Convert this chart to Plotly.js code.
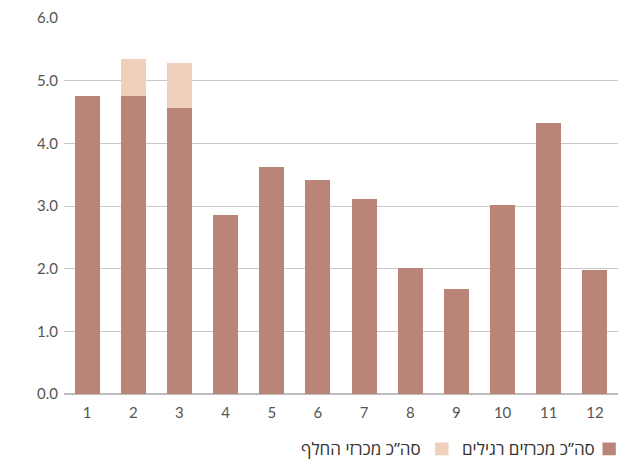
<!DOCTYPE html>
<html>
<head>
<meta charset="utf-8">
<script src="https://cdn.plot.ly/plotly-3.0.1.min.js"></script>
<style>html,body{margin:0;padding:0;background:#fff;}#chart{width:621px;height:460px;}</style>
</head>
<body>
<div id="chart"></div>
<script>
const categories = ["1","2","3","4","5","6","7","8","9","10","11","12"];
const regularValues = [4.76, 4.76, 4.56, 2.86, 3.62, 3.41, 3.11, 2.01, 1.68, 3.02, 4.32, 1.98];
const replacementValues = [0, 0.59, 0.72, 0, 0, 0, 0, 0, 0, 0, 0, 0];
const seriesNames = ["סה\u201dכ מכרזים רגילים", "סה\u201dכ מכרזי החלף"];
const yTickValues = [0, 1, 2, 3, 4, 5, 6];
const yTickLabels = ["0.0", "1.0", "2.0", "3.0", "4.0", "5.0", "6.0"];

const colors = ["#b98578", "#f0cfbd"];
const fontFamily = "Lato, 'Open Sans', 'DejaVu Sans', sans-serif";
const legendFont = "'Open Sans', 'Liberation Sans', sans-serif";

const traces = [
  {type: "bar", x: categories, y: regularValues, name: seriesNames[0],
   marker: {color: colors[0]}, hoverinfo: "skip"},
  {type: "bar", x: categories, y: replacementValues, name: seriesNames[1],
   marker: {color: colors[1]}, hoverinfo: "skip"}
];

// custom RTL legend (symbol to the right of text)
const legendY = -0.146;
const legendItems = [
  {textRight: 0.962, boxLeft: 0.972},
  {textRight: 0.648, boxLeft: 0.670}
];
const annotations = legendItems.map((it, i) => ({
  xref: "paper", yref: "paper", x: it.textRight, y: legendY,
  xanchor: "right", yanchor: "middle", showarrow: false,
  text: seriesNames[i], font: {family: legendFont, size: 17, color: "#333"}
}));
const shapes = legendItems.map((it, i) => ({
  type: "rect", xref: "paper", yref: "paper",
  x0: it.boxLeft, x1: it.boxLeft + 0.024, y0: legendY - 0.017, y1: legendY + 0.017,
  fillcolor: colors[i], line: {width: 0}
}));

const layout = {
  width: 621, height: 460,
  margin: {l: 64, r: 3, t: 18, b: 66},
  barmode: "stack", bargap: 0.46,
  showlegend: false,
  paper_bgcolor: "#fff", plot_bgcolor: "#fff",
  font: {family: fontFamily, size: 15, color: "#555"},
  xaxis: {type: "category", tickfont: {size: 15, color: "#555"}, showgrid: false,
          showline: false, ticks: "", ticklabelstandoff: 8, fixedrange: true},
  yaxis: {range: [0, 6], tickvals: yTickValues, ticktext: yTickLabels,
          tickfont: {size: 15, color: "#555"}, gridcolor: "#c8c8c8", gridwidth: 1,
          zeroline: true, zerolinecolor: "#bdbdbd", zerolinewidth: 1.5,
          showline: false, ticks: "", ticklabelstandoff: 5, fixedrange: true},
  annotations: annotations,
  shapes: shapes
};

Plotly.newPlot("chart", traces, layout, {displayModeBar: false, staticPlot: true});
</script>
</body>
</html>
